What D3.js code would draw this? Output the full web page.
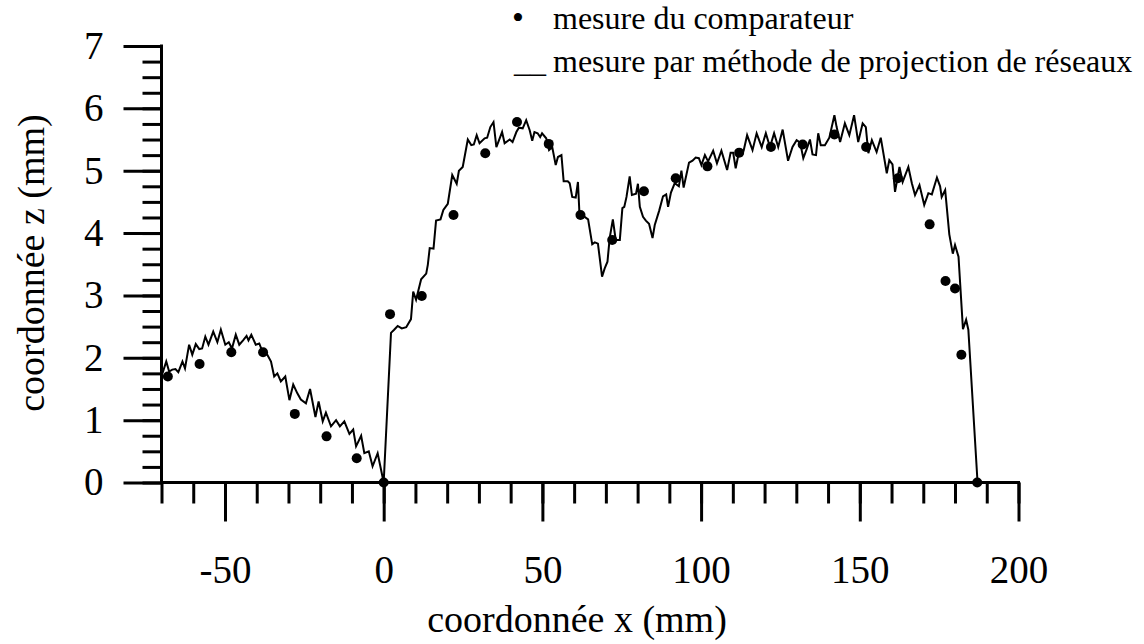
<!DOCTYPE html>
<html>
<head>
<meta charset="utf-8">
<script src="https://cdn.jsdelivr.net/npm/d3@7/dist/d3.min.js"></script>
<style>
  html, body { margin: 0; padding: 0; background: #fff; }
  svg { display: block; }
  text { font-family: "Liberation Serif", "Times New Roman", serif; fill: #000; }
</style>
</head>
<body>
<svg id="chart" width="1144" height="644"></svg>
<script>
// Comparator (dial gauge) measurements: x (mm) and z (mm)
const comparatorX = [-68, -58, -48, -38, -28, -18, -8.5, 0, 2, 12, 22, 32, 42, 52, 62, 72, 82, 92, 102, 112, 122, 132, 142, 152, 162, 172, 177, 180, 182, 187];
const comparatorZ = [1.70, 1.90, 2.09, 2.09, 1.10, 0.74, 0.39, 0, 2.70, 2.99, 4.29, 5.28, 5.78, 5.43, 4.29, 3.89, 4.67, 4.88, 5.07, 5.29, 5.38, 5.42, 5.58, 5.38, 4.88, 4.14, 3.23, 3.11, 2.05, 0];

// Fringe projection profile: x (mm) and z (mm)
const profileX = [
  -69.7, -68.5, -67.6, -66.6, -65.6, -64.7, -63.4, -62.6, -61.3, -60.3,
  -59.2, -58.1, -57.2, -56.2, -55.2, -53.7, -52.4, -51.3, -49.9, -48.8,
  -47.8, -46.6, -45.5, -44.3, -43.2, -42.6, -41.7, -40.3, -39.2, -38.2,
  -37.0, -35.5, -34.5, -33.5, -32.4, -31.0, -29.7, -28.5, -27.2, -26.1,
  -24.5, -23.2, -21.5, -20.5, -19.2, -18.2, -16.6, -15.0, -13.8, -12.4,
  -10.8, -9.6, -8.7, -7.1, -6.1, -4.7, -3.5, -1.9, 0.0, 2.3,
  3.3, 4.4, 5.7, 7.1, 8.6, 9.3, 10.2, 11.8, 13.4, 13.9,
  14.5, 15.7, 16.5, 17.9, 18.8, 20.2, 21.6, 23.0, 23.7, 24.9,
  26.5, 27.6, 28.4, 29.3, 30.2, 31.8, 32.6, 33.6, 34.6, 35.5,
  36.4, 37.3, 38.1, 39.7, 40.6, 41.8, 42.6, 43.8, 44.9, 46.0,
  46.8, 47.5, 48.5, 49.3, 49.9, 51.2, 52.1, 53.1, 54.2, 54.9,
  56.0, 56.7, 58.0, 58.6, 59.4, 60.5, 61.2, 61.7, 63.0, 64.4,
  65.7, 66.5, 67.5, 68.8, 69.6, 70.5, 71.2, 72.2, 73.1, 74.4,
  75.2, 75.8, 76.5, 77.5, 78.2, 79.5, 80.1, 80.7, 81.7, 82.6,
  83.6, 84.7, 85.4, 86.8, 88.0, 89.0, 89.6, 90.5, 91.7, 93.0,
  93.8, 94.5, 96.2, 97.3, 98.3, 99.3, 100.1, 101.2, 102.2, 103.8,
  105.0, 106.4, 108.2, 109.3, 110.1, 110.9, 112.0, 113.4, 114.5, 116.2,
  117.5, 119.1, 120.4, 121.7, 123.0, 124.3, 125.7, 127.4, 128.8, 130.1,
  131.2, 132.2, 133.3, 134.3, 135.1, 136.2, 136.9, 137.7, 139.0, 140.4,
  142.0, 142.7, 143.8, 145.3, 146.7, 148.2, 149.5, 150.9, 151.9, 152.7,
  153.8, 155.3, 156.6, 158.5, 159.3, 160.3, 161.1, 162.5, 163.5, 165.3,
  166.4, 167.4, 168.8, 170.3, 171.6, 172.7, 174.3, 175.3, 175.8, 176.9,
  178.2, 179.3, 180.0, 181.1, 182.5, 183.5, 184.2, 187.1
];
const profileZ = [
  1.75, 1.94, 1.78, 1.81, 1.82, 1.77, 1.94, 1.83, 2.21, 2.05,
  2.22, 2.14, 2.15, 2.34, 2.21, 2.42, 2.25, 2.45, 2.21, 2.25,
  2.15, 2.37, 2.21, 2.28, 2.35, 2.28, 2.37, 2.21, 2.23, 2.10,
  2.08, 1.94, 1.70, 1.75, 1.62, 1.70, 1.32, 1.57, 1.43, 1.33,
  1.27, 1.50, 1.05, 1.30, 0.98, 1.12, 0.90, 1.00, 0.90, 0.98,
  0.78, 0.85, 0.58, 0.75, 0.47, 0.50, 0.26, 0.47, 0.00, 2.40,
  2.45, 2.51, 2.47, 2.49, 2.62, 3.06, 2.93, 3.26, 3.35, 3.49,
  3.76, 3.75, 4.20, 4.22, 4.37, 4.47, 4.93, 4.79, 5.00, 5.06,
  5.50, 5.41, 5.42, 5.57, 5.44, 5.52, 5.53, 5.70, 5.78, 5.38,
  5.50, 5.62, 5.44, 5.50, 5.46, 5.62, 5.69, 5.68, 5.81, 5.65,
  5.48, 5.62, 5.60, 5.54, 5.60, 5.52, 5.33, 5.38, 5.09, 5.22,
  5.25, 4.83, 4.83, 4.80, 4.58, 4.57, 4.82, 4.29, 4.27, 4.22,
  3.82, 3.85, 3.83, 3.30, 3.43, 3.54, 3.92, 4.22, 3.89, 3.89,
  4.40, 4.42, 4.58, 4.91, 4.61, 4.63, 4.79, 4.42, 4.26, 4.20,
  4.15, 3.92, 4.13, 4.36, 4.59, 4.62, 4.42, 4.65, 4.80, 4.75,
  5.00, 4.73, 5.13, 5.16, 5.21, 5.20, 5.09, 5.25, 5.15, 5.32,
  5.12, 5.32, 5.01, 5.29, 5.29, 5.04, 5.32, 5.32, 5.57, 5.33,
  5.60, 5.38, 5.60, 5.38, 5.60, 5.38, 5.66, 5.16, 5.38, 5.49,
  5.45, 5.20, 5.35, 5.50, 5.26, 5.25, 5.60, 5.41, 5.41, 5.53,
  5.89, 5.70, 5.46, 5.76, 5.57, 5.89, 5.46, 5.76, 5.70, 5.28,
  5.49, 5.30, 5.53, 4.96, 5.17, 5.10, 4.66, 5.06, 4.82, 5.06,
  4.80, 4.61, 4.77, 4.45, 4.64, 4.62, 4.89, 4.75, 4.58, 4.69,
  3.98, 3.67, 3.81, 3.62, 2.46, 2.61, 2.45, 0.00
];

// Axis ticks and labels
const xMajorTicks = [-50, 0, 50, 100, 150, 200];
const xMinorTicks = d3.range(-70, 201, 10);
const yMajorTicks = [0, 1, 2, 3, 4, 5, 6, 7];
const yMinorTicks = d3.range(0, 7.001, 0.25);

const xTitle = "coordonnée x (mm)";
const yTitle = "coordonnée z (mm)";
const legendDots = "mesure du comparateur";
const legendLine = "mesure par méthode de projection de réseaux";

const svg = d3.select("#chart");
const plot = { left: 161.5, right: 1018.5, top: 46, bottom: 482.5 };

const x = d3.scaleLinear().domain([-70, 200]).range([plot.left, plot.right]);
const y = d3.scaleLinear().domain([0, 7]).range([plot.bottom, plot.top]);

const axisStroke = 3;
const tickFont = 39;
const titleFont = 38;
const fmt = d => String(d); // plain hyphen for negative values

function styleAxis(g) {
  g.select(".domain").remove();
  g.selectAll(".tick line").attr("stroke", "#000").attr("stroke-width", axisStroke);
  g.selectAll(".tick text")
    .style("font-family", '"Liberation Serif", "Times New Roman", serif')
    .style("font-size", tickFont + "px")
    .attr("fill", "#000");
}

// x axis: minor ticks, then major ticks with labels
svg.append("g")
  .attr("transform", `translate(0,${plot.bottom})`)
  .call(d3.axisBottom(x).tickValues(xMinorTicks).tickSize(21).tickFormat(""))
  .call(styleAxis);
svg.append("g")
  .attr("transform", `translate(0,${plot.bottom})`)
  .call(d3.axisBottom(x).tickValues(xMajorTicks).tickSize(39).tickPadding(34).tickFormat(fmt))
  .call(styleAxis);

// y axis: minor ticks, then major ticks with labels
svg.append("g")
  .attr("transform", `translate(${plot.left},0)`)
  .call(d3.axisLeft(y).tickValues(yMinorTicks).tickSize(19).tickFormat(""))
  .call(styleAxis);
svg.append("g")
  .attr("transform", `translate(${plot.left},0)`)
  .call(d3.axisLeft(y).tickValues(yMajorTicks).tickSize(38).tickPadding(20).tickFormat(fmt))
  .call(styleAxis);

// axis lines
svg.append("line")
  .attr("x1", plot.left - axisStroke / 2).attr("x2", plot.right + axisStroke / 2)
  .attr("y1", plot.bottom).attr("y2", plot.bottom)
  .attr("stroke", "#000").attr("stroke-width", axisStroke);
svg.append("line")
  .attr("x1", plot.left).attr("x2", plot.left)
  .attr("y1", plot.top - axisStroke / 2).attr("y2", plot.bottom)
  .attr("stroke", "#000").attr("stroke-width", axisStroke);

// fringe projection profile
const profile = profileX.map((d, i) => [d, profileZ[i]]);
svg.append("path")
  .datum(profile)
  .attr("fill", "none")
  .attr("stroke", "#000")
  .attr("stroke-width", 2)
  .attr("stroke-linejoin", "miter")
  .attr("d", d3.line().x(d => x(d[0])).y(d => y(d[1])));

// comparator points
svg.append("g")
  .selectAll("circle")
  .data(comparatorX.map((d, i) => [d, comparatorZ[i]]))
  .join("circle")
  .attr("cx", d => x(d[0]))
  .attr("cy", d => y(d[1]))
  .attr("r", 5)
  .attr("fill", "#000");

// axis titles
svg.append("text")
  .attr("x", 577).attr("y", 632)
  .attr("text-anchor", "middle")
  .style("font-size", titleFont + "px")
  .text(xTitle);
svg.append("text")
  .attr("transform", "translate(44,263) rotate(-90)")
  .attr("text-anchor", "middle")
  .style("font-size", titleFont + "px")
  .text(yTitle);

// legend
const legend = svg.append("g").style("font-size", "32px");
legend.append("text").attr("x", 512).attr("y", 29).style("font-size", "34px").text("•");
legend.append("text").attr("x", 553).attr("y", 29).text(legendDots);
legend.append("text").attr("x", 514).attr("y", 72).text("__");
legend.append("text").attr("x", 553).attr("y", 72).text(legendLine);
</script>
</body>
</html>
